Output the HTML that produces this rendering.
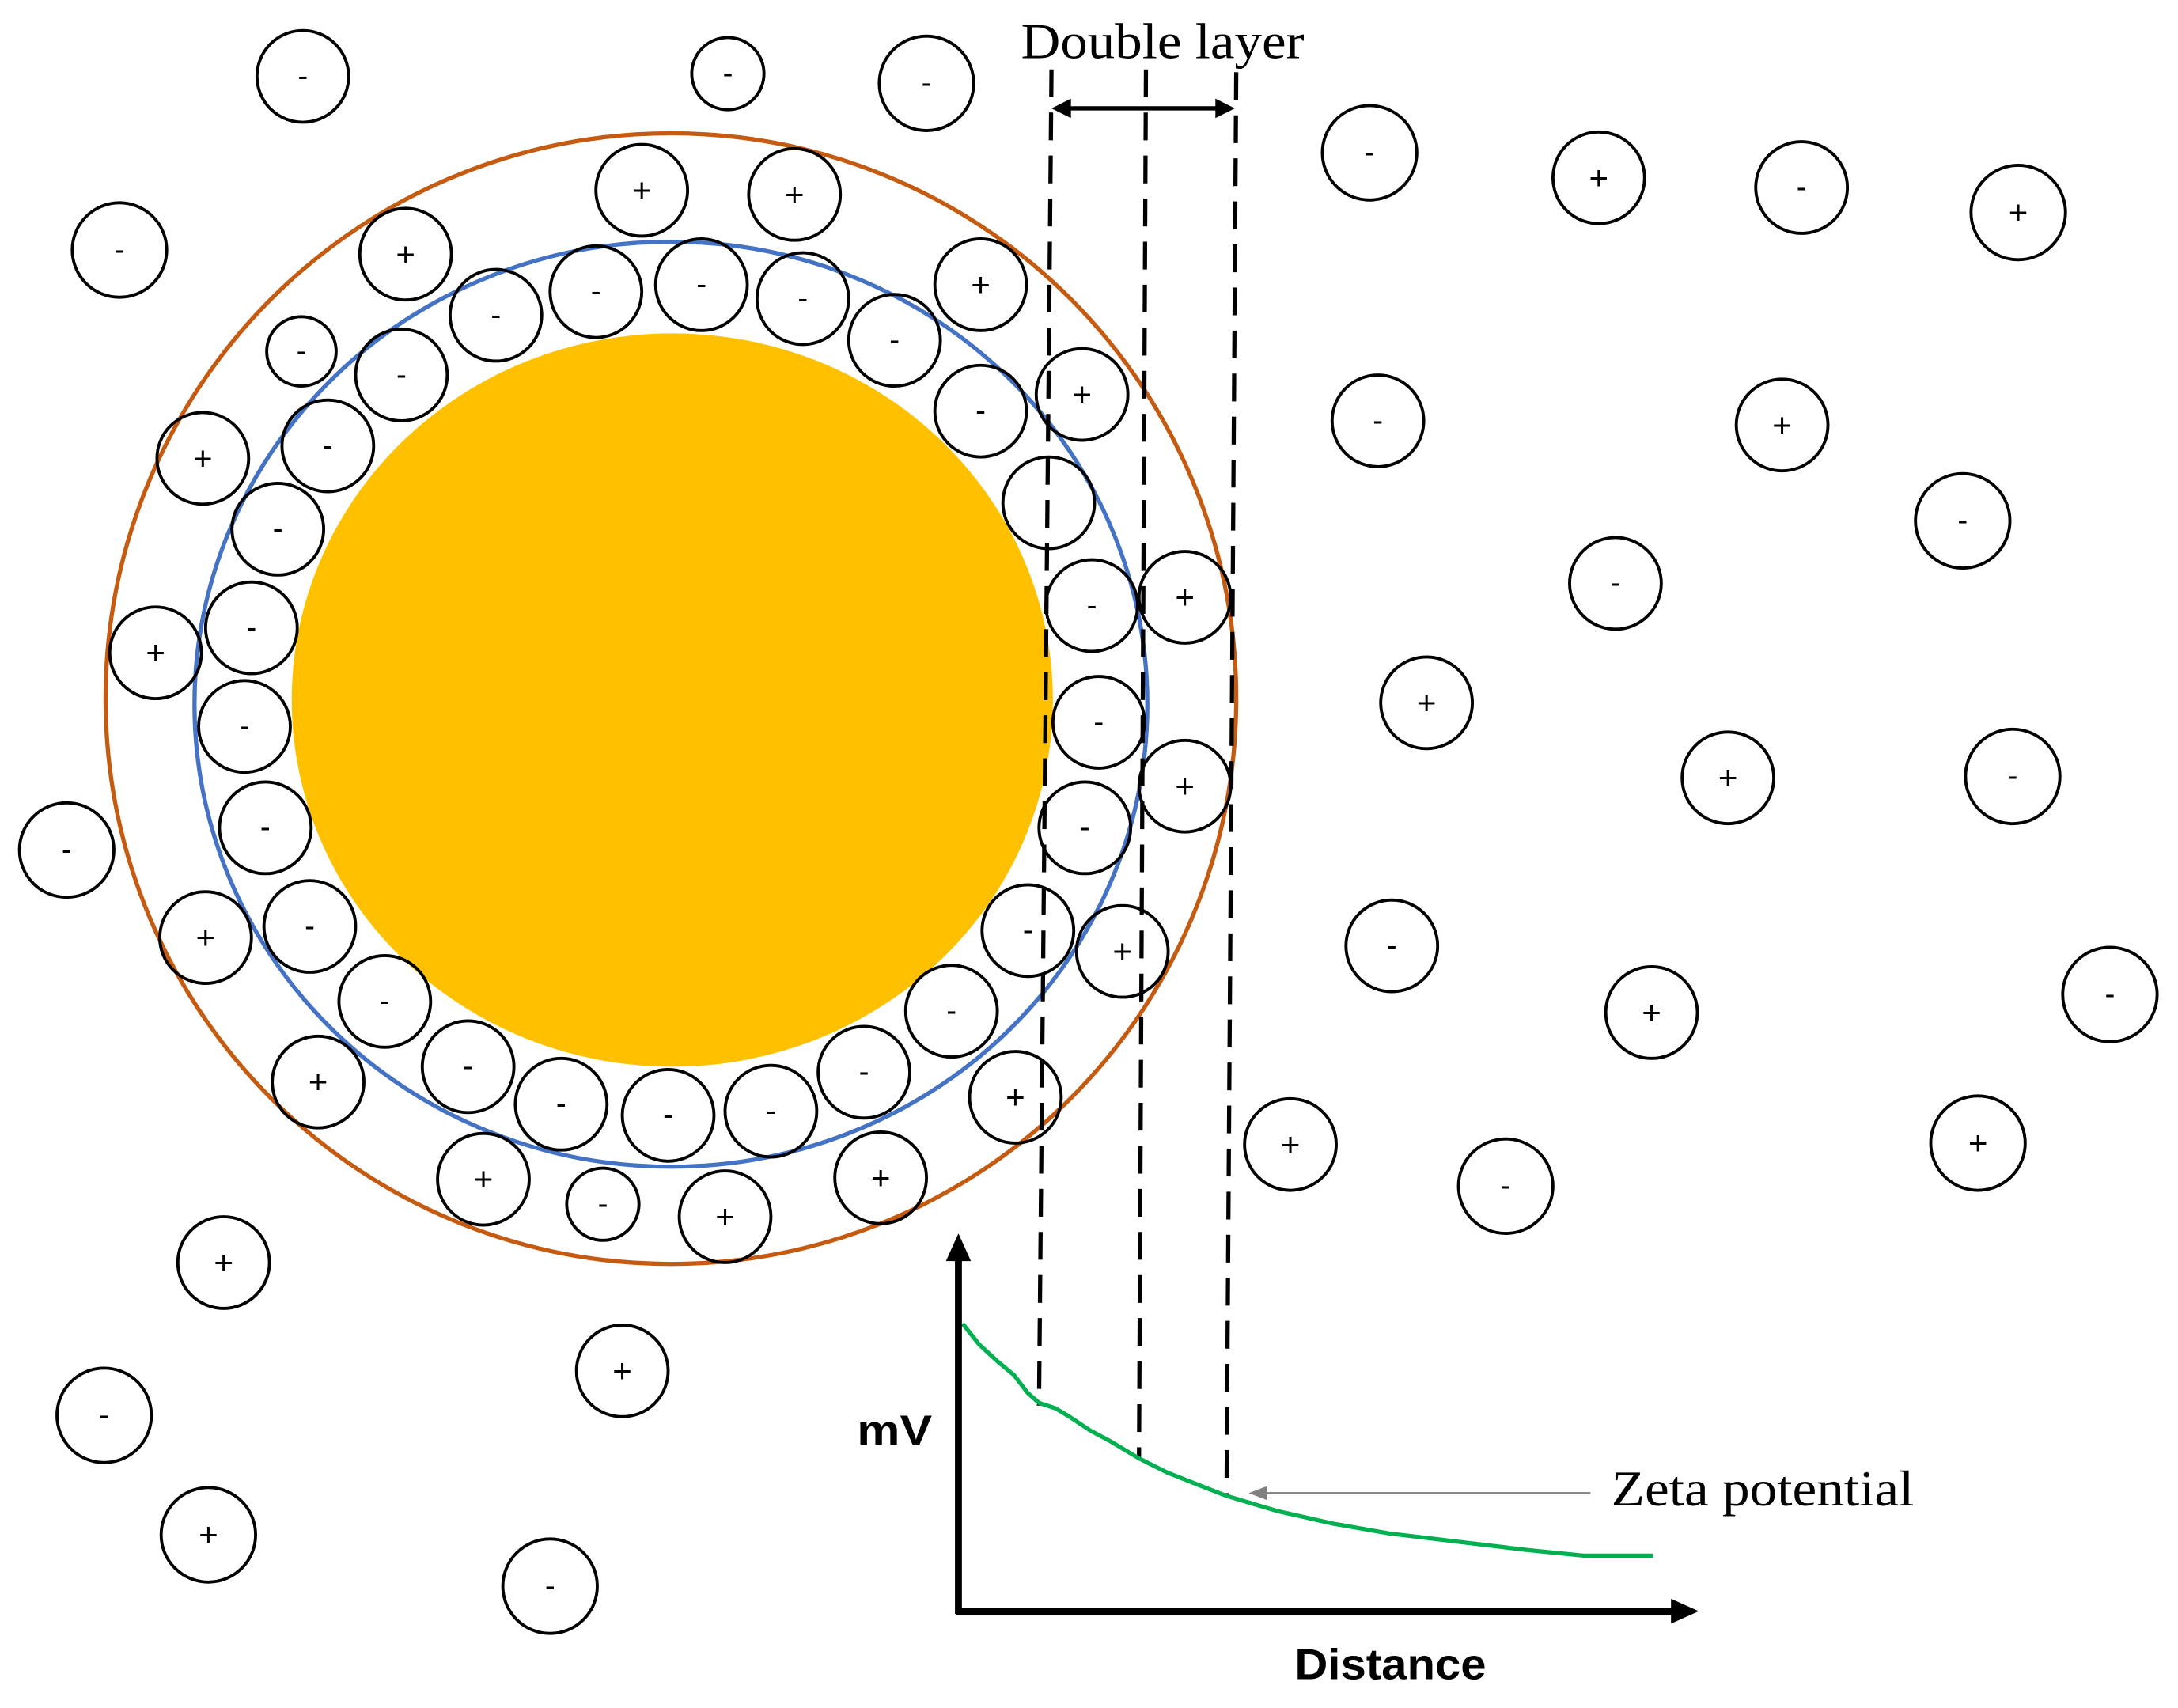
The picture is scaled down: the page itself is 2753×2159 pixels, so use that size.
<!DOCTYPE html>
<html><head><style>html,body{margin:0;padding:0;background:#fff}svg{display:block}</style></head>
<body>
<svg xmlns="http://www.w3.org/2000/svg" width="2753" height="2159" viewBox="0 0 1568 1229.7">
<rect width="1568" height="1230" fill="#fff"/>
<ellipse cx="483" cy="503" rx="407" ry="407" fill="none" stroke="#c55a11" stroke-width="3"/>
<ellipse cx="484" cy="504" rx="274" ry="264" fill="#ffc000"/>
<ellipse cx="483" cy="507" rx="343" ry="333" fill="none" stroke="#4472c4" stroke-width="3"/>
<g fill="none" stroke="#000" stroke-width="2.2">
<circle cx="218" cy="55" r="33"/><circle cx="524" cy="53" r="26"/><circle cx="667" cy="60" r="34"/><circle cx="86" cy="180" r="34"/><circle cx="986" cy="110" r="34"/><circle cx="1297" cy="135" r="33"/><circle cx="992" cy="303" r="33"/><circle cx="1413" cy="375" r="34"/><circle cx="1163" cy="420" r="33"/><circle cx="1449" cy="559" r="34"/><circle cx="48" cy="612" r="34"/><circle cx="1002" cy="681" r="33"/><circle cx="1519" cy="716" r="34"/><circle cx="1084" cy="854" r="34"/><circle cx="75" cy="1019" r="34"/><circle cx="396" cy="1142" r="34"/>
<circle cx="357" cy="227" r="33"/><circle cx="429" cy="210" r="33"/><circle cx="505" cy="205" r="33"/><circle cx="578" cy="215" r="33"/><circle cx="644" cy="245" r="33"/><circle cx="706" cy="296" r="33"/><circle cx="755" cy="362" r="33"/><circle cx="786" cy="436" r="33"/><circle cx="791" cy="520" r="33"/><circle cx="781" cy="596" r="33"/><circle cx="740" cy="670" r="33"/><circle cx="685" cy="728" r="33"/><circle cx="622" cy="772" r="33"/><circle cx="555" cy="800" r="33"/><circle cx="481" cy="803" r="33"/><circle cx="404" cy="795" r="33"/><circle cx="337" cy="768" r="33"/><circle cx="277" cy="721" r="33"/><circle cx="223" cy="667" r="33"/><circle cx="191" cy="596" r="33"/><circle cx="176" cy="523" r="33"/><circle cx="181" cy="452" r="33"/><circle cx="200" cy="381" r="33"/><circle cx="236" cy="321" r="33"/><circle cx="289" cy="270" r="33"/><circle cx="217" cy="253" r="25"/><circle cx="434" cy="867" r="26"/>
<circle cx="1151" cy="128" r="33"/><circle cx="1453" cy="153" r="34"/><circle cx="1283" cy="306" r="33"/><circle cx="1027" cy="506" r="33"/><circle cx="1244" cy="560" r="33"/><circle cx="1189" cy="729" r="33"/><circle cx="929" cy="824" r="33"/><circle cx="1424" cy="823" r="34"/><circle cx="161" cy="909" r="33"/><circle cx="448" cy="987" r="33"/><circle cx="150" cy="1105" r="34"/>
<circle cx="462" cy="137" r="33"/><circle cx="572" cy="140" r="33"/><circle cx="292" cy="183" r="33"/><circle cx="706" cy="205" r="33"/><circle cx="779" cy="284" r="33"/><circle cx="146" cy="330" r="33"/><circle cx="112" cy="470" r="33"/><circle cx="853" cy="430" r="33"/><circle cx="853" cy="566" r="33"/><circle cx="808" cy="685" r="33"/><circle cx="148" cy="675" r="33"/><circle cx="229" cy="779" r="33"/><circle cx="731" cy="790" r="33"/><circle cx="348" cy="849" r="33"/><circle cx="634" cy="848" r="33"/><circle cx="522" cy="876" r="33"/>
</g>
<g font-family="Liberation Sans, sans-serif" font-size="22" text-anchor="middle" fill="#000">
<text x="218" y="62">-</text><text x="524" y="60">-</text><text x="667" y="67">-</text><text x="86" y="187">-</text><text x="986" y="117">-</text><text x="1297" y="142">-</text><text x="992" y="310">-</text><text x="1413" y="382">-</text><text x="1163" y="427">-</text><text x="1449" y="566">-</text><text x="48" y="619">-</text><text x="1002" y="688">-</text><text x="1519" y="723">-</text><text x="1084" y="861">-</text><text x="75" y="1026">-</text><text x="396" y="1149">-</text>
<text x="357" y="234">-</text><text x="429" y="217">-</text><text x="505" y="212">-</text><text x="578" y="222">-</text><text x="644" y="252">-</text><text x="706" y="303">-</text><text x="786" y="443">-</text><text x="791" y="527">-</text><text x="781" y="603">-</text><text x="740" y="677">-</text><text x="685" y="735">-</text><text x="622" y="779">-</text><text x="555" y="807">-</text><text x="481" y="810">-</text><text x="404" y="802">-</text><text x="337" y="775">-</text><text x="277" y="728">-</text><text x="223" y="674">-</text><text x="191" y="603">-</text><text x="176" y="530">-</text><text x="181" y="459">-</text><text x="200" y="388">-</text><text x="236" y="328">-</text><text x="289" y="277">-</text><text x="217" y="260">-</text><text x="434" y="874">-</text>
<g font-size="24">
<text x="1151" y="136">+</text><text x="1453" y="161">+</text><text x="1283" y="314">+</text><text x="1027" y="514">+</text><text x="1244" y="568">+</text><text x="1189" y="737">+</text><text x="929" y="832">+</text><text x="1424" y="831">+</text><text x="161" y="917">+</text><text x="448" y="995">+</text><text x="150" y="1113">+</text>
<text x="462" y="145">+</text><text x="572" y="148">+</text><text x="292" y="191">+</text><text x="706" y="213">+</text><text x="779" y="292">+</text><text x="146" y="338">+</text><text x="112" y="478">+</text><text x="853" y="438">+</text><text x="853" y="574">+</text><text x="808" y="693">+</text><text x="148" y="683">+</text><text x="229" y="787">+</text><text x="731" y="798">+</text><text x="348" y="857">+</text><text x="634" y="856">+</text><text x="522" y="884">+</text>
</g></g>
<g stroke="#000" stroke-width="3" stroke-dasharray="20,11" fill="none">
<line x1="757" y1="50" x2="748" y2="1012"/>
<line x1="825" y1="50" x2="820" y2="1050"/>
<line x1="890" y1="52" x2="883" y2="1077"/>
</g>
<line x1="768" y1="78" x2="878" y2="78" stroke="#000" stroke-width="3"/>
<polygon points="757,78 771,71 771,85" fill="#000"/>
<polygon points="889,78 875,71 875,85" fill="#000"/>
<text x="735" y="42" font-family="Liberation Serif, serif" font-size="36" textLength="204" lengthAdjust="spacingAndGlyphs">Double layer</text>
<path d="M693,953 L705,968 L718,980 L730,990 L740,1003 L748,1010 L760,1014 L770,1020 L785,1030 L800,1038 L820,1050 L840,1060 L860,1068 L883,1077 L920,1088 L960,1097 L1000,1104 L1050,1110 L1100,1116 L1140,1120 L1190,1120" fill="none" stroke="#00b050" stroke-width="3"/>
<line x1="1145" y1="1075" x2="910" y2="1075" stroke="#808080" stroke-width="1.5"/>
<polygon points="899,1075 912,1070 912,1080" fill="#808080"/>
<text x="1160" y="1084" font-family="Liberation Serif, serif" font-size="36" textLength="218" lengthAdjust="spacingAndGlyphs">Zeta potential</text>
<line x1="690" y1="1162" x2="690" y2="905" stroke="#000" stroke-width="5"/>
<polygon points="690,888 681,908 699,908" fill="#000"/>
<line x1="688" y1="1160" x2="1205" y2="1160" stroke="#000" stroke-width="5"/>
<polygon points="1223,1160 1203,1151 1203,1169" fill="#000"/>
<text x="617" y="1040" font-family="Liberation Sans, sans-serif" font-weight="bold" font-size="30" textLength="54" lengthAdjust="spacingAndGlyphs">mV</text>
<text x="932" y="1209" font-family="Liberation Sans, sans-serif" font-weight="bold" font-size="31" textLength="138" lengthAdjust="spacingAndGlyphs">Distance</text>
</svg>
</body></html>
